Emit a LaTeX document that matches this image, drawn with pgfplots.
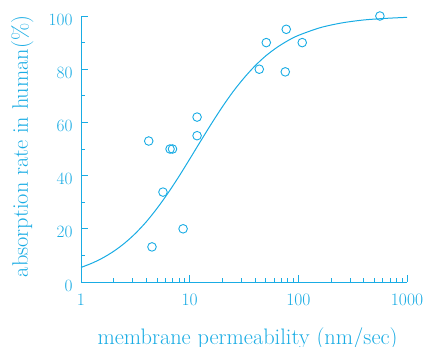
\documentclass[border=0pt]{standalone}
\usepackage{pgfplots}
\pgfplotsset{compat=1.18}
\definecolor{cy}{RGB}{25,172,228}
\begin{document}
\begin{tikzpicture}
\begin{axis}[
  name=ax,
  xmode=log,
  width=326pt, height=266pt, scale only axis,
  xmin=1, xmax=1000, ymin=0, ymax=100,
  axis x line*=bottom, axis y line*=left,
  axis line style={cy, line width=1pt, -},
  every tick/.style={cy, line width=0.9pt},
  tick align=inside,
  major tick length=7pt, minor tick length=4.5pt,
  xtick={1,10,100,1000}, xticklabels={1,10,100,1000},
  ytick={0,20,40,60,80,100}, minor y tick num=1,
  tick label style={font=\fontsize{17.5}{20}\selectfont, text=cy},
  xticklabel style={yshift=-8pt},
  yticklabel style={xshift=-5pt, yshift=-3.5pt},
  label style={font=\fontsize{22.4}{26}\selectfont, text=cy},
  xlabel={membrane permeability (nm/sec)},
  ylabel={absorption rate in human(\%)},
  xlabel style={at={(axis description cs:0.511,0)}, anchor=base, yshift=-62pt},
  ylabel style={at={(axis description cs:0,0.51)}, anchor=base, yshift=53pt},
  clip=false,
]
\addplot[cy, line width=1pt, smooth] coordinates {
(1,5.48) (1.2589,7.06) (1.5849,9.05) (1.9953,11.52) (2.5119,14.56)
(3.1623,18.24) (3.9811,22.6) (5.0119,27.7) (6.3096,33.4) (7.9433,39.6)
(10,46.2) (12.589,52.9) (15.849,59.5) (19.953,65.8) (25.119,71.6)
(31.623,76.7) (39.811,81.2) (50.119,85.0) (63.096,88.1) (79.433,90.65)
(100,92.7) (158.49,95.6) (251.19,97.4) (398.11,98.5) (630.96,99.1) (1000,99.5)
};
\addplot[only marks, mark=o, mark size=4.3pt, cy, mark options={line width=0.9pt}] coordinates {
(4.2,53) (6.6,50) (6.95,50) (11.7,62) (11.7,55) (5.68,33.8) (8.7,20)
(4.5,13.2) (43.7,80) (50.7,90) (77.4,95) (75.8,79) (108.6,90) (563,100)
};
\end{axis}
\pgfresetboundingbox
\path[use as bounding box] ([shift={(-81pt,-64pt)}]ax.south west) rectangle ([shift={(346pt,282pt)}]ax.south west);
\end{tikzpicture}
\end{document}
